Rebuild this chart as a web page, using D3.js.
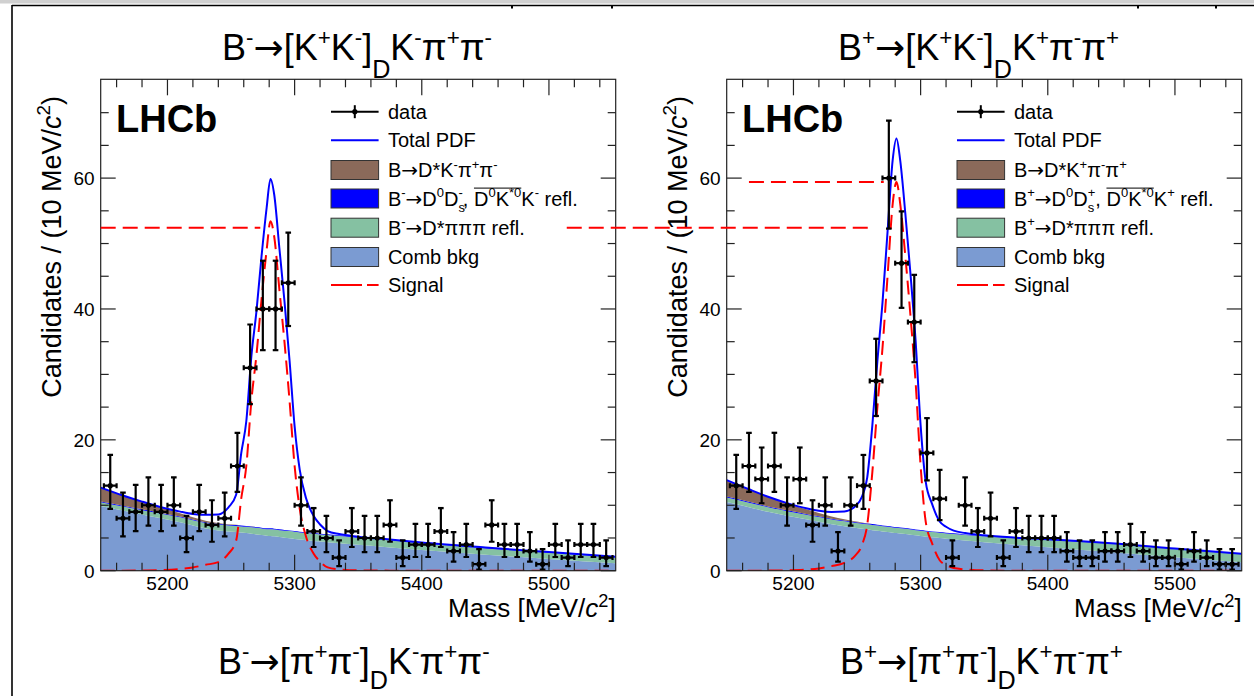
<!DOCTYPE html>
<html>
<head>
<meta charset="utf-8">
<script src="https://cdn.jsdelivr.net/npm/d3@7"></script>
<style>
body { margin: 0; background: #fff; }
svg text { font-family: "Liberation Sans", Arial, Helvetica, sans-serif; fill: #000; }
</style>
</head>
<body>
<div id="f1"></div>
<script>
const W = 1254, H = 696;

// 10 MeV bins
const binCenters = [5155, 5165, 5175, 5185, 5195, 5205, 5215, 5225, 5235, 5245,
                    5255, 5265, 5275, 5285, 5295, 5305, 5315, 5325, 5335, 5345,
                    5355, 5365, 5375, 5385, 5395, 5405, 5415, 5425, 5435, 5445,
                    5455, 5465, 5475, 5485, 5495, 5505, 5515, 5525, 5535, 5545];

const countsMinus = [13, 8, 9, 10, 9, 10, 5, 9, 7, 8,
                     16, 31, 40, 40, 44, 10, 6, 5, 2, 6,
                     5, 5, 7, 2, 4, 4, 6, 3, 4, 1,
                     7, 4, 4, 3, 1, 4, 2, 4, 4, 2];
const countsPlus = [13, 16, 14, 16, 10, 14, 7, 10, 3, 10,
                    13, 29, 60, 47, 38, 18, 11, 2, 10, 6,
                    8, 2, 6, 5, 5, 5, 3, 2, 2, 3,
                    3, 4, 3, 2, 2, 1, 3, 2, 1, 1];

// fit curves at these masses
const curveX = [5147.5, 5165, 5180, 5195, 5210, 5220, 5230, 5240, 5248, 5254,
                5258, 5262, 5266, 5270, 5274, 5278, 5281, 5284, 5288, 5292,
                5296, 5300, 5304, 5309, 5315, 5320, 5326, 5335, 5350, 5375,
                5400, 5450, 5500, 5552.5];

const combMinus = [9.9, 9.2, 8.6, 8.0, 7.4, 6.9, 6.45, 6.15, 6.0, 5.9,
                   5.82, 5.75, 5.65, 5.55, 5.45, 5.35, 5.3, 5.25, 5.15, 5.05,
                   4.95, 4.85, 4.75, 4.65, 4.55, 4.45, 4.35, 4.2, 3.95, 3.55,
                   3.15, 2.45, 1.8, 1.15];
const dpiMinus = [0.55, 0.6, 0.65, 0.7, 0.75, 0.8, 0.85, 0.9, 0.9, 0.95,
                  0.95, 0.95, 1.0, 1.0, 1.0, 1.0, 1.05, 1.05, 1.05, 1.05,
                  1.1, 1.1, 1.1, 1.1, 1.1, 1.1, 1.1, 1.1, 1.1, 1.1,
                  1.05, 1.0, 0.95, 0.9];
const ddsMinus = [0.14, 0.14, 0.13, 0.13, 0.13, 0.12, 0.12, 0.12, 0.12, 0.12,
                  0.12, 0.12, 0.12, 0.12, 0.12, 0.12, 0.12, 0.12, 0.12, 0.12,
                  0.11, 0.11, 0.11, 0.11, 0.11, 0.11, 0.11, 0.1, 0.1, 0.1,
                  0.1, 0.09, 0.09, 0.08];
const dkppMinus = [2.1, 1.55, 1.15, 0.8, 0.5, 0.35, 0.22, 0.12, 0.07, 0.04,
                   0.03, 0.02, 0.01, 0, 0, 0, 0, 0, 0, 0,
                   0, 0, 0, 0, 0, 0, 0, 0, 0, 0,
                   0, 0, 0, 0];
const sigMinus = [0, 0, 0.03, 0.08, 0.25, 0.5, 0.9, 1.3, 2.6, 4.6,
                  11, 16, 26, 33, 41.5, 49, 53.4, 51, 43, 35,
                  26, 16, 9.5, 5.2, 2.6, 1.4, 0.5, 0.2, 0.05, 0.01,
                  0, 0, 0, 0];

const combPlus = [10.5, 9.7, 9.0, 8.4, 7.85, 7.5, 7.1, 6.8, 6.55, 6.4,
                  6.3, 6.2, 6.1, 6.0, 5.9, 5.8, 5.75, 5.7, 5.6, 5.5,
                  5.4, 5.3, 5.2, 5.1, 5.0, 4.9, 4.8, 4.6, 4.35, 3.95,
                  3.6, 2.85, 2.05, 1.3];
const dpiPlus = [0.7, 0.7, 0.7, 0.7, 0.7, 0.7, 0.72, 0.74, 0.76, 0.78,
                 0.78, 0.8, 0.8, 0.8, 0.8, 0.8, 0.8, 0.8, 0.8, 0.8,
                 0.8, 0.8, 0.8, 0.8, 0.8, 0.8, 0.82, 0.85, 0.9, 1.0,
                 1.1, 1.25, 1.25, 1.2];
const ddsPlus = [0.14, 0.14, 0.13, 0.13, 0.13, 0.12, 0.12, 0.12, 0.12, 0.12,
                 0.12, 0.12, 0.12, 0.12, 0.12, 0.12, 0.12, 0.12, 0.12, 0.12,
                 0.11, 0.11, 0.11, 0.11, 0.11, 0.11, 0.11, 0.1, 0.1, 0.1,
                 0.1, 0.09, 0.09, 0.08];
const dkppPlus = [2.5, 1.9, 1.45, 1.05, 0.7, 0.5, 0.35, 0.2, 0.12, 0.07,
                  0.04, 0.02, 0.01, 0, 0, 0, 0, 0, 0, 0,
                  0, 0, 0, 0, 0, 0, 0, 0, 0, 0,
                  0, 0, 0, 0];
const sigPlus = [0, 0, 0.02, 0.05, 0.15, 0.35, 0.7, 1.2, 2.2, 4,
                 7, 15, 25, 34, 45, 56, 59.4, 56, 48, 39,
                 29, 16, 7.5, 4.2, 1.6, 0.9, 0.4, 0.2, 0.05, 0,
                 0, 0, 0, 0];

const xTicksMajor = [5200, 5300, 5400, 5500];
const xTicksMinor = [5160, 5180, 5220, 5240, 5260, 5280, 5320, 5340, 5360, 5380,
                     5420, 5440, 5460, 5480, 5520, 5540];
const yTicksMajor = [0, 20, 40, 60];
const yTicksMinor = [5, 10, 15, 25, 30, 35, 45, 50, 55, 65, 70];

const legendMinus = ["data", "Total PDF", "B→D*K^{-}π^{+}π^{-}",
                     "B^{-}→D^{0}D_{s}^{-}, |D^{0}K^{*0}|K^{-} refl.",
                     "B^{-}→D*πππ refl.", "Comb bkg", "Signal"];
const legendPlus = ["data", "Total PDF", "B→D*K^{+}π^{-}π^{+}",
                    "B^{+}→D^{0}D_{s}^{+}, |D^{0}K^{*0}|K^{+} refl.",
                    "B^{+}→D*πππ refl.", "Comb bkg", "Signal"];

const titlesTop = ["B^{-}→[K^{+}K^{-}]_{D}K^{-}π^{+}π^{-}", "B^{+}→[K^{+}K^{-}]_{D}K^{+}π^{-}π^{+}"];
const titlesBottom = ["B^{-}→[π^{+}π^{-}]_{D}K^{-}π^{+}π^{-}", "B^{+}→[π^{+}π^{-}]_{D}K^{+}π^{-}π^{+}"];

// red guide lines: [panel of start, mass start, panel of end, mass end, level]
const guideLines = [[0, 5147.5, 0, 5273, 52.4],
                    [0, 5514, 1, 5258.5, 52.4],
                    [1, 5165, 1, 5271, 59.4]];

const ctx = {
    xDomain: [5147.5, 5552.5],
    yDomain: [0, 75.1],
    top: 79.3, bottom: 570.7,
    panelX: [100.7, 726.7],
    panelW: 515,
    colors: { comb: "#7b9bd2", dpi: "#85c1a2", dds: "#0000ff", dkpp: "#8b6a5a",
              total: "#0000ff", sig: "#ff0000" },
    panels: [],
};

// tiny latex-ish parser: ^{..} sup, _{..} sub, ~{..} italic, | toggles overbar
function parseTex(s){
    const parts = [];
    let i = 0, bar = false, buf = "";
    const flush = () => { if (buf) { parts.push({t: buf, bar: bar}); buf = ""; } };
    while (i < s.length) {
        const c = s[i];
        if ((c === "^" || c === "_" || c === "~") && s[i + 1] === "{") {
            flush();
            const j = s.indexOf("}", i);
            const p = {t: s.slice(i + 2, j), bar: bar};
            const last = parts[parts.length - 1];
            if (c === "^") p.m = 1; else if (c === "_") p.m = -1; else p.it = true;
            if (c === "^" && last && last.m === -1) p.stack = true;
            parts.push(p);
            i = j + 1;
        } else if (c === "|") { flush(); bar = !bar; i++; }
        else if (c === "→") { flush(); parts.push({t: c, bar: bar, arrow: true}); i++; }
        else { buf += c; i++; }
    }
    flush();
    return parts;
}

function richText(sel, s, fs, opt){
    opt = opt || {};
    const supS = opt.supS || 0.65, supUp = opt.supUp || 0.42;
    const subS = opt.subS || 0.65, subDn = opt.subDn || 0.28;
    let cur = 0, prev = null;
    parseTex(s).forEach(function(p){
        const mode = p.m || 0;
        const size = mode === 1 ? fs * supS : mode === -1 ? fs * subS : fs;
        const target = mode === 1 ? -supUp * fs : mode === -1 ? subDn * fs : 0;
        const ts = sel.append("tspan")
            .attr("dy", (target - cur).toFixed(2))
            .attr("font-size", size)
            .text(p.t);
        if (p.it) ts.attr("font-style", "italic");
        if (p.arrow) ts.style("font-family", "'DejaVu Sans'");
        if (p.stack && prev) ts.attr("dx", -prev.node().getComputedTextLength());
        if (p.bar) ts.classed("bar", true);
        cur = target;
        prev = ts;
    });
    // overline above the barred group
    const bars = sel.selectAll("tspan.bar").nodes();
    if (bars.length){
        let x0 = Infinity, x1 = -Infinity, y0 = Infinity;
        bars.forEach(function(n){
            const b = n.getBBox();
            x0 = Math.min(x0, b.x); x1 = Math.max(x1, b.x + b.width); y0 = Math.min(y0, b.y);
        });
        d3.select(sel.node().parentNode).append("line")
            .attr("x1", x0).attr("x2", x1)
            .attr("y1", y0 + 3).attr("y2", y0 + 3)
            .attr("stroke", "#000").attr("stroke-width", 1);
    }
}

// asymmetric poisson interval (Wilson-Hilferty approx of Garwood)
function poissonErr(n){
    const lo = n > 0 ? n * Math.pow(1 - 1 / (9 * n) - 1 / (3 * Math.sqrt(n)), 3) : 0;
    const hi = (n + 1) * Math.pow(1 - 1 / (9 * (n + 1)) + 1 / (3 * Math.sqrt(n + 1)), 3);
    return [lo, hi];
}

function makePanel(svgEl, k, counts, comp, legend){
    const x0 = ctx.panelX[k];
    const x = d3.scaleLinear().domain(ctx.xDomain).range([x0, x0 + ctx.panelW]);
    const y = d3.scaleLinear().domain(ctx.yDomain).range([ctx.bottom, ctx.top]);
    ctx.panels.push({x: x, y: y});

    const g = svgEl.append("g").attr("class", "panel");
    const clipId = "clip" + k;
    g.append("clipPath").attr("id", clipId).append("rect")
     .attr("x", x0).attr("y", ctx.top).attr("width", ctx.panelW).attr("height", ctx.bottom - ctx.top);
    const plot = g.append("g").attr("clip-path", "url(#" + clipId + ")");

    // cumulative stack of background components
    const rows = curveX.map(function(m, i){
        const c1 = comp.comb[i];
        const c2 = c1 + comp.dpi[i];
        const c3 = c2 + comp.dds[i];
        const c4 = c3 + comp.dkpp[i];
        return {m: m, c0: 0, c1: c1, c2: c2, c3: c3, c4: c4, tot: c4 + comp.sig[i], sig: comp.sig[i]};
    });
    const bands = [["c0", "c1", ctx.colors.comb], ["c1", "c2", ctx.colors.dpi],
                   ["c2", "c3", ctx.colors.dds], ["c3", "c4", ctx.colors.dkpp]];
    bands.forEach(function(b){
        plot.append("path").datum(rows)
            .attr("fill", b[2])
            .attr("d", d3.area().curve(d3.curveMonotoneX)
                .x(d => x(d.m)).y0(d => y(d[b[0]])).y1(d => y(d[b[1]])));
    });
    plot.append("path").datum(rows)
        .attr("fill", "none").attr("stroke", ctx.colors.total).attr("stroke-width", 2)
        .attr("d", d3.line().curve(d3.curveMonotoneX).x(d => x(d.m)).y(d => y(d.tot)));
    plot.append("path").datum(rows)
        .attr("fill", "none").attr("stroke", ctx.colors.sig).attr("stroke-width", 2)
        .attr("stroke-dasharray", "14 7")
        .attr("d", d3.line().curve(d3.curveMonotoneX).x(d => x(d.m)).y(d => y(d.sig)));

    // data points
    const pts = plot.append("g").attr("stroke", "#000").attr("stroke-width", 2.2);
    binCenters.forEach(function(c, i){
        const n = counts[i];
        const e = poissonErr(n);
        const cx = x(c), cy = y(n);
        pts.append("line").attr("x1", cx).attr("x2", cx).attr("y1", y(e[0])).attr("y2", y(e[1]));
        pts.append("line").attr("x1", cx - 2.8).attr("x2", cx + 2.8).attr("y1", y(e[0])).attr("y2", y(e[0]));
        pts.append("line").attr("x1", cx - 2.8).attr("x2", cx + 2.8).attr("y1", y(e[1])).attr("y2", y(e[1]));
        pts.append("line").attr("x1", x(c - 5)).attr("x2", x(c + 5)).attr("y1", cy).attr("y2", cy);
        pts.append("line").attr("x1", x(c - 5)).attr("x2", x(c - 5)).attr("y1", cy - 2.5).attr("y2", cy + 2.5);
        pts.append("line").attr("x1", x(c + 5)).attr("x2", x(c + 5)).attr("y1", cy - 2.5).attr("y2", cy + 2.5);
        pts.append("circle").attr("cx", cx).attr("cy", cy).attr("r", 2.6).attr("fill", "#000").attr("stroke", "none");
    });

    // frame and ticks on all four sides
    const ax = g.append("g").attr("stroke", "#222").attr("stroke-width", 1.2);
    ax.append("rect").attr("x", x0).attr("y", ctx.top)
      .attr("width", ctx.panelW).attr("height", ctx.bottom - ctx.top).attr("fill", "none");
    const xt = xTicksMajor.map(v => [v, 16]).concat(xTicksMinor.map(v => [v, 8]));
    xt.forEach(function(t){
        ax.append("line").attr("x1", x(t[0])).attr("x2", x(t[0])).attr("y1", ctx.bottom).attr("y2", ctx.bottom - t[1]);
        ax.append("line").attr("x1", x(t[0])).attr("x2", x(t[0])).attr("y1", ctx.top).attr("y2", ctx.top + t[1]);
    });
    const yt = yTicksMajor.map(v => [v, 15]).concat(yTicksMinor.map(v => [v, 8]));
    yt.forEach(function(t){
        ax.append("line").attr("x1", x0).attr("x2", x0 + t[1]).attr("y1", y(t[0])).attr("y2", y(t[0]));
        ax.append("line").attr("x1", x0 + ctx.panelW).attr("x2", x0 + ctx.panelW - t[1]).attr("y1", y(t[0])).attr("y2", y(t[0]));
    });
    xTicksMajor.forEach(function(v){
        g.append("text").attr("x", x(v)).attr("y", 590).attr("text-anchor", "middle")
         .attr("font-size", 19).text(v);
    });
    yTicksMajor.forEach(function(v){
        g.append("text").attr("x", x0 - 6).attr("y", y(v) + 7).attr("text-anchor", "end")
         .attr("font-size", 19).text(v);
    });

    // axis titles
    const xtT = g.append("text").attr("x", x0 + ctx.panelW).attr("y", 617)
                 .attr("text-anchor", "end").attr("font-size", 26);
    richText(xtT, "Mass [MeV/~{c}^{2}]", 26, {supUp: 0.4, supS: 0.7});
    const ytT = g.append("text").attr("transform", "translate(" + (x0 - 40) + ",96) rotate(-90)")
                 .attr("text-anchor", "end").attr("font-size", 27);
    richText(ytT, "Candidates / (10 MeV/~{c}^{2})", 27, {supUp: 0.4, supS: 0.7});

    // LHCb label
    g.append("text").attr("x", x0 + 15.3).attr("y", 131.7)
     .attr("font-size", 38).attr("font-weight", "bold").text("LHCb");

    // legend
    const lx0 = x0 + 230.3, lx1 = x0 + 277.9, tx = x0 + 287.2;
    const rowY = [111.7, 140.3, 170, 198.5, 227.7, 257, 285];
    const lg = g.append("g");
    legend.forEach(function(s, i){
        const cy = rowY[i];
        if (i === 0){
            lg.append("line").attr("x1", lx0).attr("x2", lx1).attr("y1", cy).attr("y2", cy)
              .attr("stroke", "#000").attr("stroke-width", 2);
            const mx = (lx0 + lx1) / 2;
            lg.append("line").attr("x1", mx).attr("x2", mx).attr("y1", cy - 6.5).attr("y2", cy + 6.5)
              .attr("stroke", "#000").attr("stroke-width", 2);
            lg.append("circle").attr("cx", mx).attr("cy", cy).attr("r", 2.6).attr("fill", "#000");
        } else if (i === 1){
            lg.append("line").attr("x1", lx0).attr("x2", lx1).attr("y1", cy).attr("y2", cy)
              .attr("stroke", ctx.colors.total).attr("stroke-width", 2);
        } else if (i === 6){
            lg.append("line").attr("x1", lx0).attr("x2", lx1).attr("y1", cy).attr("y2", cy)
              .attr("stroke", ctx.colors.sig).attr("stroke-width", 2.2).attr("stroke-dasharray", "31 5");
        } else {
            const col = [ctx.colors.dkpp, ctx.colors.dds, ctx.colors.dpi, ctx.colors.comb][i - 2];
            lg.append("rect").attr("x", lx0).attr("y", cy - 9.5).attr("width", lx1 - lx0).attr("height", 19)
              .attr("fill", col).attr("stroke", "#333").attr("stroke-width", 1);
        }
        const t = lg.append("text").attr("x", tx).attr("y", cy + 7).attr("font-size", 20);
        richText(t, s, 20, {supUp: 0.42, subDn: 0.3});
    });
}

function createViz(){
    const svgEl = d3.select("#f1").append("svg").attr("width", W).attr("height", H);
    svgEl.append("rect").attr("width", W).attr("height", H).attr("fill", "#fff");

    // page border left over from the cut figure
    svgEl.append("rect").attr("x", 0).attr("y", 0).attr("width", W).attr("height", 3.5).attr("fill", "#d0d0d0");
    svgEl.append("line").attr("x1", 12).attr("x2", W).attr("y1", 5.5).attr("y2", 5.5)
         .attr("stroke", "#000").attr("stroke-width", 1.6);
    svgEl.append("line").attr("x1", 12).attr("x2", 12).attr("y1", 5).attr("y2", H)
         .attr("stroke", "#000").attr("stroke-width", 1.6);
    [512, 612, 1138, 1216].forEach(function(px){
        svgEl.append("line").attr("x1", px).attr("x2", px).attr("y1", 5).attr("y2", 8.5)
             .attr("stroke", "#000").attr("stroke-width", 2);
    });

    makePanel(svgEl, 0, countsMinus,
              {comb: combMinus, dpi: dpiMinus, dds: ddsMinus, dkpp: dkppMinus, sig: sigMinus}, legendMinus);
    makePanel(svgEl, 1, countsPlus,
              {comb: combPlus, dpi: dpiPlus, dds: ddsPlus, dkpp: dkppPlus, sig: sigPlus}, legendPlus);

    // red dashed guide lines
    guideLines.forEach(function(l){
        const p0 = ctx.panels[l[0]], p1 = ctx.panels[l[2]];
        svgEl.append("line")
             .attr("x1", p0.x(l[1])).attr("x2", p1.x(l[3]))
             .attr("y1", p0.y(l[4])).attr("y2", p0.y(l[4]))
             .attr("stroke", "#ff0000").attr("stroke-width", 2).attr("stroke-dasharray", "15 7");
    });

    // channel titles
    const tx = [[222, 838], [218, 840]];
    [titlesTop, titlesBottom].forEach(function(arr, r){
        arr.forEach(function(s, k){
            const t = svgEl.append("text").attr("x", tx[r][k]).attr("y", r === 0 ? 60 : 674)
                           .attr("font-size", 36);
            richText(t, s, 36, {supS: 0.62, supUp: 0.42, subS: 0.7, subDn: r === 0 ? 0.5 : 0.42});
        });
    });
}

createViz();
</script>
</body>
</html>
